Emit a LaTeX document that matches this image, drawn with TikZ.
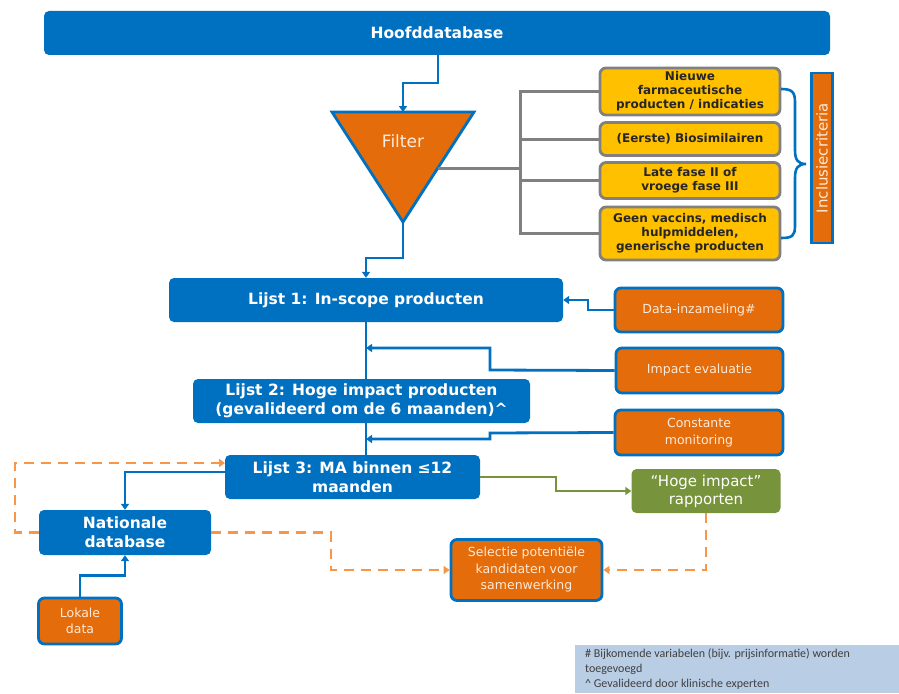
\documentclass[tikz,border=0pt]{standalone}
\usepackage{fontspec}
\setmainfont{DejaVu Sans}
\newfontfamily\notefont{Carlito}
\usetikzlibrary{arrows.meta}
\definecolor{bl}{HTML}{0070C0}
\definecolor{orng}{HTML}{E46C0A}
\definecolor{yel}{HTML}{FFC000}
\definecolor{gry}{HTML}{808080}
\definecolor{grn}{HTML}{77933C}
\definecolor{dorng}{HTML}{F79646}
\definecolor{cream}{HTML}{FDEADA}
\definecolor{notebg}{HTML}{B9CDE5}
\definecolor{notetx}{HTML}{404040}
\definecolor{ytx}{HTML}{262626}
\tikzset{
  bluebox/.style={draw=none, fill=bl, rounded corners=5pt, text=white, align=center, inner sep=0pt,
    font=\fontsize{15.5}{19}\selectfont\bfseries},
  yelbox/.style={draw=gry, line width=2.8pt, fill=yel, rounded corners=6pt, text=ytx, align=center, inner sep=0pt,
    minimum width=180pt, font=\fontsize{12}{14}\selectfont\bfseries},
  orbox/.style={draw=bl, line width=2.8pt, fill=orng, rounded corners=6pt, text=cream, align=center, inner sep=0pt,
    font=\fontsize{12.5}{16.5}\selectfont},
  grnbox/.style={draw=none, fill=grn, rounded corners=5pt, text=white, align=center, inner sep=0pt,
    font=\fontsize{15}{18}\selectfont},
  bluearr/.style={draw=bl, line width=2.8pt, -{Triangle[width=8pt,length=6pt]}},
  blueline/.style={draw=bl, line width=2.8pt},
  grayline/.style={draw=gry, line width=3pt},
  greenarr/.style={draw=grn, line width=2.8pt, -{Triangle[width=8pt,length=6pt]}},
  dasharr/.style={draw=dorng, line width=2.8pt, dash pattern=on 10pt off 7pt, -{Triangle[width=8pt,length=6pt]}},
}
\begin{document}
\begin{tikzpicture}[x=1pt,y=-1pt]
\useasboundingbox (0,0) rectangle (899,693);
\fill[white] (0,0) rectangle (899,693);

% top database
\node[bluebox, minimum width=786pt, minimum height=44pt] (hoofd) at (437,33) {Hoofddatabase};

% filter triangle
\coordinate (ftl) at (332,112);
\coordinate (ftop) at (403,112);
\coordinate (ftr) at (474,112);
\coordinate (fbot) at (403,222);
\coordinate (fside) at (438,168);
\draw[draw=bl, line width=2.8pt, fill=orng, line join=miter] (ftl) -- (ftr) -- (fbot) -- cycle;
\node[text=cream, font=\fontsize{17}{20}\selectfont] (filter) at (403,141) {Filter};

% inclusion criteria
\node[yelbox, minimum height=47pt] (y1) at (690,91.5) {Nieuwe\\farmaceutische\\producten / indicaties};
\node[yelbox, minimum height=33pt] (y2) at (690,139) {(Eerste) Biosimilairen};
\node[yelbox, minimum height=36pt] (y3) at (690,180.5) {Late fase II of\\vroege fase III};
\node[yelbox, minimum height=53pt] (y4) at (690,233.5) {Geen vaccins, medisch\\hulpmiddelen,\\generische producten};
\node[draw=bl, line width=2.8pt, fill=orng, rotate=90, minimum width=170pt, minimum height=21pt, inner sep=0pt,
  text=cream, font=\fontsize{15}{18}\selectfont] (incl) at (822,158) {Inclusiecriteria};
\draw[draw=bl, line width=2.6pt] (781,89) .. controls (792,89) and (795,92) .. (795,102) -- (795,150)
  .. controls (795,160) and (798,164) .. (806,164) .. controls (798,164) and (795,168) .. (795,178)
  -- (795,226) .. controls (795,236) and (792,238) .. (781,238);

\coordinate (gb) at (520,168);
\draw[grayline] (fside) -- (gb);
\draw[grayline] (y1.west) -| (gb);
\draw[grayline] (y4.west) -| (gb);
\draw[grayline] (y2.west) -- (y2.west -| gb);
\draw[grayline] (y3.west) -- (y3.west -| gb);

% lists
\node[bluebox, minimum width=394pt, minimum height=44pt] (l1) at (366,300) {Lijst 1: In-scope producten};
\node[bluebox, minimum width=337pt, minimum height=44pt] (l2) at (361.5,401) {Lijst 2: Hoge impact producten\\(gevalideerd om de 6 maanden)\textasciicircum};
\node[bluebox, minimum width=255pt, minimum height=44pt] (l3) at (352.5,477) {Lijst 3: MA binnen ≤12\\maanden};

% side inputs
\node[orbox, minimum width=168pt, minimum height=44pt] (data) at (699,310) {Data-inzameling\#};
\node[orbox, minimum width=167pt, minimum height=45pt] (impact) at (699.5,370.5) {Impact evaluatie};
\node[orbox, minimum width=168pt, minimum height=45pt] (const) at (699,432.5) {Constante\\monitoring};
\node[grnbox, minimum width=149pt, minimum height=44pt] (rapp) at (706,491) {“Hoge impact”\\rapporten};
\node[orbox, minimum width=151pt, minimum height=61pt] (sel) at (526.5,570) {Selectie potentiële\\kandidaten voor\\samenwerking};
\node[bluebox, minimum width=172pt, minimum height=45pt] (nat) at (125,532.5) {Nationale\\database};
\node[orbox, minimum width=83pt, minimum height=46pt] (lok) at (80,621) {Lokale\\data};

% note
\node[fill=notebg, minimum width=324pt, minimum height=48pt, inner sep=0pt] (notebox) at (737,669) {};
\node[anchor=north west, align=left, inner sep=0pt, text=notetx, font=\notefont\fontsize{12}{15}\selectfont]
  (note) at (585,649) {\# Bijkomende variabelen (bijv. prijsinformatie) worden\\toegevoegd\\\textasciicircum{} Gevalideerd door klinische experten};

% main flow
\coordinate (hout) at (438,55);
\draw[bluearr] (hout) -- (438,83) -| (ftop);
\draw[bluearr] (fbot) -- (403,258) -| (l1.north);
\draw[blueline] (l1.south) -- (l1.south |- l2.north);
\draw[blueline] (l1.south |- l2.south) -- (l1.south |- l3.north);

\coordinate (j1) at (366,348);
\coordinate (j2) at (366,439);
\draw[bluearr] (data.west) -- (588,310) |- (l1.east);
\draw[bluearr] (impact.west) -- (490,370) |- (j1);
\draw[bluearr] (const.west) -- (490,433) |- (j2);

\draw[bluearr] ([yshift=5pt]l3.west) -| (nat.north);
\draw[bluearr] (lok.north) -- ++(0,-21) -| (nat.south);
\draw[greenarr] (l3.east) -- (556,477) |- (rapp.west);

\coordinate (l3in) at (225,463);
\draw[dasharr] (nat.west) -- (15,532.5) |- (l3in);
\draw[dasharr] (nat.east) -- (331,532.5) |- (sel.west);
\draw[dasharr] (rapp.south) |- (sel.east);
\end{tikzpicture}
\end{document}
